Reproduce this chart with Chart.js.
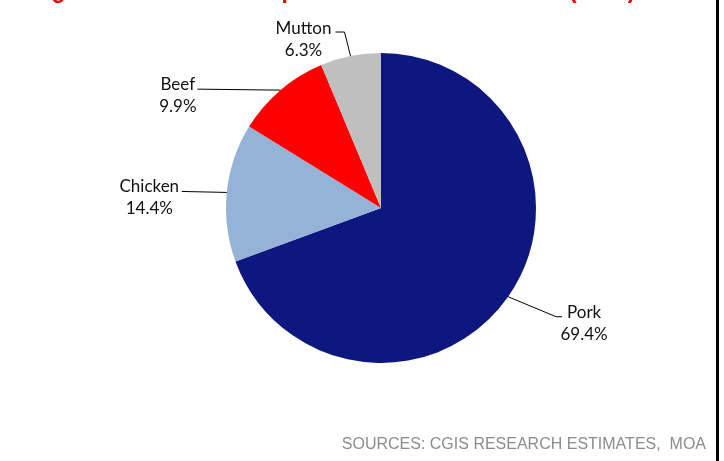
<!DOCTYPE html>
<html>
<head>
<meta charset="utf-8">
<script src="https://cdn.jsdelivr.net/npm/chart.js@4.4.1/dist/chart.umd.min.js"></script>
<style>
  html, body { margin: 0; padding: 0; background: #ffffff; }
  #wrap { position: relative; width: 724px; height: 461px; overflow: hidden; }
  canvas { display: block; }
</style>
</head>
<body>
<div id="wrap"><canvas id="c" width="724" height="461"></canvas></div>
<script>
// ---- data ----
const categories = ['Pork', 'Chicken', 'Beef', 'Mutton'];
const shares = [69.4, 14.4, 9.9, 6.3];
const shareLabels = ['69.4%', '14.4%', '9.9%', '6.3%'];
const sliceColors = ['#0E1780', '#95B3D7', '#FF0000', '#BFBFBF'];
const titleText = 'Figure 2: Meat consumption breakdown in China (2016)';
const sourceText = 'SOURCES: CGIS RESEARCH ESTIMATES,  MOA';

// ---- leader-line layout (offsets relative to each slice's edge midpoint) ----
const leaderStyle = {
  Pork:    { elbow: [48, 20],  end: [54, 20],  text: [22, 1] },
  Chicken: { elbow: [-45, -1], end: [-45, -1], text: [-32.5, 0.5] },
  Beef:    { elbow: [-83, -1], end: [-83, -1], text: [-19.5, 0.5] },
  Mutton:  { elbow: [-6, -24], end: [-15, -24], text: [-32, 2] }
};

const labelPlugin = {
  id: 'leaderLabels',
  afterDatasetsDraw(chart) {
    const ctx = chart.ctx;
    const meta = chart.getDatasetMeta(0);
    ctx.save();
    meta.data.forEach((arc, i) => {
      const p = arc.getProps(['x', 'y', 'startAngle', 'endAngle', 'outerRadius'], true);
      const mid = (p.startAngle + p.endAngle) / 2;
      const ax = p.x + Math.cos(mid) * p.outerRadius;
      const ay = p.y + Math.sin(mid) * p.outerRadius;
      const s = leaderStyle[categories[i]];
      const ex = ax + s.elbow[0], ey = ay + s.elbow[1];
      const fx = ax + s.end[0], fy = ay + s.end[1];
      ctx.strokeStyle = '#000000';
      ctx.lineWidth = 1;
      ctx.beginPath();
      ctx.moveTo(ax, ay);
      ctx.lineTo(ex, ey);
      ctx.lineTo(fx, fy);
      ctx.stroke();
      ctx.fillStyle = '#111111';
      ctx.font = '17px Lato, "Open Sans", sans-serif';
      ctx.textAlign = 'center';
      ctx.textBaseline = 'alphabetic';
      const tx = fx + s.text[0], ty = fy + s.text[1];
      ctx.fillText(categories[i], tx, ty);
      ctx.fillText(shareLabels[i], tx, ty + 22);
    });
    ctx.restore();
  },
  afterDraw(chart) {
    const ctx = chart.ctx;
    ctx.save();
    // clipped title at top
    ctx.fillStyle = '#F00000';
    ctx.font = 'bold 23px "Liberation Sans", Arial, sans-serif';
    ctx.textAlign = 'left';
    ctx.textBaseline = 'alphabetic';
    ctx.fillText(titleText, 31, -2);
    // source note
    ctx.fillStyle = '#8C8C8C';
    ctx.font = '16px "Liberation Sans", Arial, sans-serif';
    ctx.textAlign = 'right';
    ctx.fillText(sourceText, 706, 449);
    // right frame line
    ctx.fillStyle = '#000000';
    ctx.fillRect(716, 0, 3, 461);
    ctx.restore();
  }
};

new Chart(document.getElementById('c'), {
  type: 'pie',
  data: {
    labels: categories,
    datasets: [{
      data: shares,
      backgroundColor: sliceColors,
      borderWidth: 0,
      hoverOffset: 0
    }]
  },
  options: {
    responsive: false,
    animation: false,
    layout: { padding: { top: 53, bottom: 98, left: 200, right: 162 } },
    plugins: { legend: { display: false }, tooltip: { enabled: false } }
  },
  plugins: [labelPlugin]
});
</script>
</body>
</html>
